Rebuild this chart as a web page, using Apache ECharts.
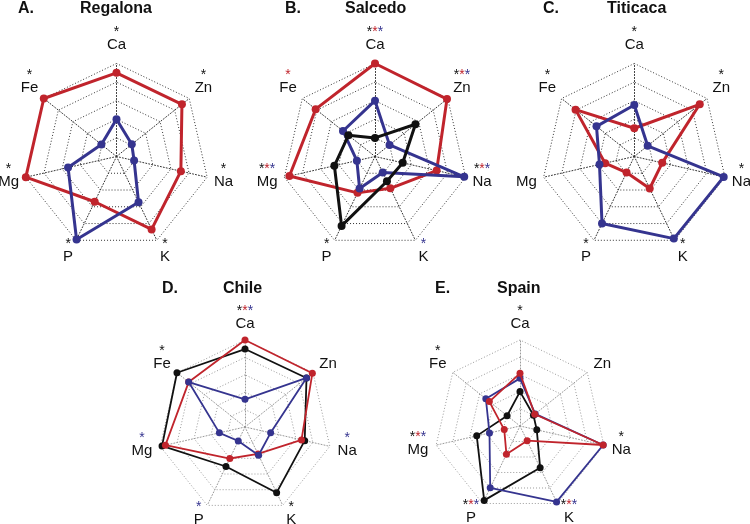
<!DOCTYPE html>
<html><head><meta charset="utf-8">
<script src="https://cdn.jsdelivr.net/npm/echarts@6/dist/echarts.min.js"></script>
<style>html,body{margin:0;padding:0;background:#fff}#c{width:750px;height:524px}</style>
</head><body><div id="c"></div>
<script>
// Elements, clockwise from the top of each radar
const elements = ['Ca', 'Zn', 'Na', 'K', 'P', 'Mg', 'Fe'];
const panelLetters = ['A.', 'B.', 'C.', 'D.', 'E.'];
const panelNames = ['Regalona', 'Salcedo', 'Titicaca', 'Chile', 'Spain'];

// Values on a 0-5 scale, order: Ca, Zn, Na, K, P, Mg, Fe
const regalonaRed   = [4.5, 4.5, 3.55, 4.35, 2.7, 5.0, 5.0];
const regalonaBlue  = [2.0, 1.05, 0.97, 2.73, 4.95, 2.67, 1.04];
const salcedoRed    = [5.0, 4.95, 3.4, 1.9, 2.17, 4.72, 4.08];
const salcedoBlue   = [3.0, 1.0, 4.92, 0.96, 1.91, 1.0, 2.2];
const salcedoBlack  = [1.0, 2.78, 1.53, 1.48, 4.14, 2.24, 1.83];
const titicacaRed   = [1.52, 4.5, 1.54, 1.91, 0.96, 1.61, 4.04];
const titicacaBlue  = [2.77, 0.92, 4.93, 4.9, 4.0, 1.92, 2.6];
const chileBlack    = [4.48, 4.52, 3.52, 4.19, 2.52, 4.89, 5.0];
const chileRed      = [5.0, 4.95, 3.33, 1.72, 2.01, 4.69, 4.14];
const chileBlue     = [1.59, 4.52, 1.51, 1.8, 0.89, 1.51, 4.14];
const spainBlack    = [2.0, 1.0, 1.0, 2.7, 4.8, 2.58, 0.96];
const spainRed      = [3.06, 1.1, 4.96, 0.95, 1.82, 0.94, 2.28];
const spainBlue     = [2.77, 1.13, 4.96, 4.9, 3.99, 1.82, 2.54];

// Significance asterisks per element (k = black, r = red, b = blue)
const regalonaStars = ['k', 'k', 'k', 'k', 'k', 'k', 'k'];
const salcedoStars  = ['krb', 'krb', 'krb', 'b', 'k', 'krb', 'r'];
const titicacaStars = ['k', 'k', 'k', 'k', 'k', '', 'k'];
const chileStars    = ['krb', '', 'b', 'k', 'b', 'b', 'k'];
const spainStars    = ['k', '', 'k', 'krb', 'krb', 'krb', 'k'];

const RED = '#c0242c', BLUE = '#35348f', BLACK = '#111111';
const FONT = 'Liberation Sans, Arial, Helvetica, sans-serif';

const panels = [
  {series: [[regalonaRed, RED], [regalonaBlue, BLUE]], stars: regalonaStars},
  {series: [[salcedoRed, RED], [salcedoBlue, BLUE], [salcedoBlack, BLACK]], stars: salcedoStars},
  {series: [[titicacaRed, RED], [titicacaBlue, BLUE]], stars: titicacaStars},
  {series: [[chileBlack, BLACK], [chileRed, RED], [chileBlue, BLUE]], stars: chileStars},
  {series: [[spainBlack, BLACK], [spainBlue, BLUE], [spainRed, RED]], stars: spainStars}
];

// layout (positions / styles)
const layout = [
  {cx: 116.5, cy: 156.5, r: 93, row: 0, lx: 18, tx: 80, ty: 1},
  {cx: 375, cy: 156.5, r: 93, row: 0, lx: 285, tx: 345, ty: 1},
  {cx: 634.3, cy: 156.5, r: 93, row: 0, lx: 543, tx: 607, ty: 1},
  {cx: 245, cy: 427, r: 87, row: 1, lx: 162, tx: 223, ty: 281},
  {cx: 520, cy: 426, r: 86, row: 1, lx: 435, tx: 497, ty: 281}
];
const rowStyle = [
  {gap: 7, grid: '#333333', lw: 3, sym: 8, gaps: [{t:0,b:3},{t:0,b:21},{t:0,b:2},{t:13,b:0}]},
  {gap: 8, grid: '#9a9a9a', lw: 1.8, sym: 7, gaps: [{t:0,b:0},{t:0,b:16},{t:0,b:2},{t:6,b:0}]}
];
// category of label position for each element (top, upper, middle, lower)
const catOf = [0, 1, 2, 3, 3, 2, 1];
// ECharts places indicators counter-clockwise: Ca, Fe, Mg, P, K, Na, Zn
const ccw = [0, 6, 5, 4, 3, 2, 1];
const reorder = arr => ccw.map(k => arr[k]);

function labelText(p, name) {
  const idx = elements.indexOf(name);
  const cat = catOf[idx];
  const st = panels[p].stars[idx];
  const g = rowStyle[layout[p].row].gaps[cat];
  const starLine = st ? st.split('').map(c => '{s' + c + '|*}').join('') : '{e| }';
  let s = '';
  if (g.t) s += '{gt' + cat + '| }\n';
  s += starLine + '\n{n|' + name + '}';
  if (g.b) s += '\n{gb' + cat + '| }';
  return s;
}
function richFor(p) {
  const rs = rowStyle[layout[p].row];
  const starBase = {fontSize: 14, lineHeight: 8, align: 'center', fontFamily: FONT};
  const rich = {
    sk: Object.assign({color: BLACK}, starBase),
    sr: Object.assign({color: RED}, starBase),
    sb: Object.assign({color: BLUE}, starBase),
    e: {fontSize: 2, lineHeight: 8},
    n: {fontSize: 15, lineHeight: 17, color: '#111', align: 'center', fontFamily: FONT}
  };
  rs.gaps.forEach((g, c) => {
    rich['gt' + c] = {fontSize: 2, lineHeight: g.t};
    rich['gb' + c] = {fontSize: 2, lineHeight: g.b};
  });
  return rich;
}

const radar = layout.map((L, p) => {
  const rs = rowStyle[L.row];
  return {
    center: [L.cx, L.cy], radius: L.r, startAngle: 90, splitNumber: 5, shape: 'polygon',
    indicator: ccw.map(k => ({name: elements[k], min: 0, max: 5})),
    nameGap: rs.gap,
    axisName: {formatter: name => labelText(p, name), rich: richFor(p), color: '#111', fontSize: 15, fontFamily: FONT},
    axisLine: {lineStyle: {color: rs.grid, type: [1, 2], width: 1}},
    splitLine: {lineStyle: {color: rs.grid, type: [1, 2], width: 1}},
    splitArea: {show: false},
    axisTick: {show: false},
    axisLabel: {show: false}
  };
});

const series = [];
panels.forEach((P, p) => {
  const rs = rowStyle[layout[p].row];
  P.series.forEach(([vals, col], j) => {
    series.push({
      type: 'radar', radarIndex: p, silent: true, z: 2 + j,
      symbol: 'circle', symbolSize: rs.sym,
      lineStyle: {color: col, width: rs.lw},
      itemStyle: {color: col},
      data: [{value: reorder(vals)}]
    });
  });
});

const title = [];
layout.forEach((L, p) => {
  const ts = {fontSize: 16, fontWeight: 'bold', color: '#111', fontFamily: FONT};
  title.push({text: panelLetters[p], left: L.lx, top: L.ty, padding: 0, textStyle: ts});
  title.push({text: panelNames[p], left: L.tx, top: L.ty, padding: 0, textStyle: ts});
});

const chart = echarts.init(document.getElementById('c'), null, {renderer: 'canvas'});
chart.setOption({animation: false, backgroundColor: '#fff', title, radar, series});
</script></body></html>
